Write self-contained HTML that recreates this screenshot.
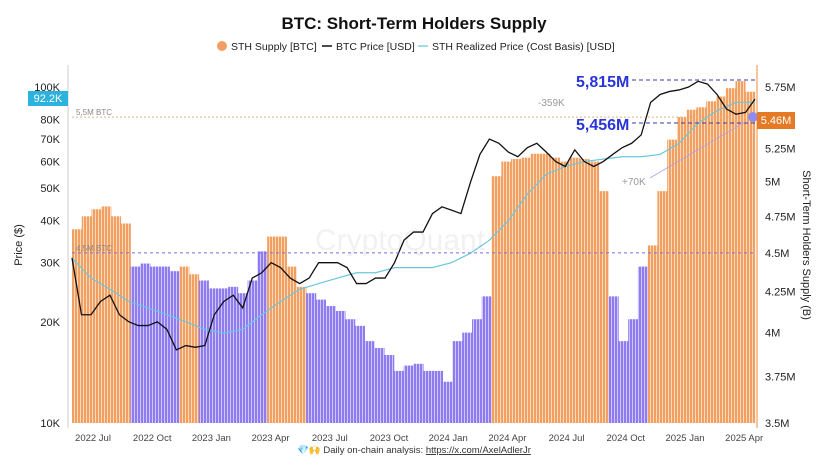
<!DOCTYPE html>
<html><head><meta charset="utf-8"><style>
body{margin:0;background:#fff;font-family:"Liberation Sans",sans-serif;}
svg text{font-family:"Liberation Sans",sans-serif;}
</style></head><body>
<svg id="c" width="828" height="465" viewBox="0 0 828 465">
<defs>
<pattern id="po" width="3" height="10" patternUnits="userSpaceOnUse"><rect width="3" height="10" fill="#fbd9bd"/><rect width="2" height="10" fill="#f2a062"/></pattern>
<pattern id="pp" width="3" height="10" patternUnits="userSpaceOnUse"><rect width="3" height="10" fill="#cfc6fa"/><rect width="2" height="10" fill="#8d7bef"/></pattern>
</defs>
<text x="414" y="29" text-anchor="middle" font-size="17" font-weight="bold" fill="#111">BTC: Short-Term Holders Supply</text>
<g font-size="10.5" fill="#222">
<circle cx="222" cy="46" r="5" fill="#f2a062"/>
<text x="231" y="50">STH Supply [BTC]</text>
<line x1="322" y1="46" x2="332" y2="46" stroke="#111" stroke-width="1.5"/>
<text x="336" y="50">BTC Price [USD]</text>
<line x1="418" y1="46" x2="428" y2="46" stroke="#7fd0e0" stroke-width="1.5"/>
<text x="432" y="50">STH Realized Price (Cost Basis) [USD]</text>
</g>
<g id="bars"></g>
<g id="axes"></g>
<g id="lines"></g>
<g id="ann"></g>
<text x="400" y="250" text-anchor="middle" font-size="30" fill="#000" opacity="0.05">CryptoQuant</text>
<text x="22" y="245" transform="rotate(-90 22 245)" text-anchor="middle" font-size="11" fill="#222">Price ($)</text>
<text x="803" y="245" transform="rotate(90 803 245)" text-anchor="middle" font-size="11" fill="#222">Short-Term Holders Supply (B)</text>
<text x="414" y="453" text-anchor="middle" font-size="9.5" fill="#333">💎🙌 Daily on-chain analysis: <tspan text-decoration="underline">https://x.com/AxelAdlerJr</tspan></text>
</svg>
<script>
const supply=[4.66,4.75,4.80,4.82,4.75,4.70,4.41,4.43,4.41,4.41,4.38,4.41,4.36,4.32,4.27,4.27,4.28,4.24,4.32,4.51,4.61,4.61,4.41,4.28,4.24,4.20,4.16,4.13,4.08,4.04,3.95,3.91,3.87,3.78,3.81,3.82,3.78,3.78,3.72,3.95,4.00,4.08,4.22,5.04,5.15,5.17,5.18,5.21,5.21,5.18,5.15,5.18,5.17,5.15,4.93,4.22,3.95,4.08,4.41,4.55,4.93,5.32,5.50,5.56,5.58,5.63,5.67,5.74,5.80,5.71];
const supplyColor="oooooopppppoopppppppoooopppppppppppppppppppooooooooooooppppoooooooooooo".split('');
const price=[31,21,21,23,24,21,20,19.5,19.5,20,19,16.5,17,16.8,17,21,23,24,22,27,28,30,29,27,26,27,30,30,30,29,26,26,27,27,30,35,37,37,42,44,43,42,52,63,70,68,64,62,66,68,64,60,58,65,60,58,60,63,66,68,72,90,95,97,98,100,104,102,95,86,83,84,92];
const realized=[31,27,25,23,22,21,20,19,18.5,19,21,23,25,26,27,28,28,29,29,29,30,32,35,40,48,55,58,60,61,62,62,63,68,78,85,90,90];
const leftTicks=[10000,20000,30000,40000,50000,60000,70000,80000,100000];
const leftLabels=["10K","20K","30K","40K","50K","60K","70K","80K","100K"];
const rightTicks=[3.5,3.75,4,4.25,4.5,4.75,5,5.25,5.75];
const rightLabels=["3.5M","3.75M","4M","4.25M","4.5M","4.75M","5M","5.25M","5.75M"];
const xLabels=["2022 Jul","2022 Oct","2023 Jan","2023 Apr","2023 Jul","2023 Oct","2024 Jan","2024 Apr","2024 Jul","2024 Oct","2025 Jan","2025 Apr"];

const X0=72,X1=755,Y0=423;
const yL=v=>Y0-(Math.log10(v)-4)*336;
const yR=v=>Y0-(Math.log10(v)-Math.log10(3.5))/(Math.log10(5.75)-Math.log10(3.5))*336;
const xi=(i,n)=>X0+i*(X1-X0)/(n-1);
const NS="http://www.w3.org/2000/svg";
function mk(t,a,p){const e=document.createElementNS(NS,t);for(const k in a)e.setAttribute(k,a[k]);p.appendChild(e);return e;}

const bars=document.getElementById('bars');
const bw=(X1-X0)/supply.length;
supply.forEach((v,i)=>{
 const r=mk('rect',{x:X0+i*bw,y:yR(v),width:bw+0.3,height:Y0-yR(v),fill:supplyColor[i]==='o'?'url(#po)':'url(#pp)'},bars);
 
 
});

const ax=document.getElementById('axes');
mk('line',{x1:68,y1:65,x2:68,y2:428,stroke:'#ccc'},ax);
mk('line',{x1:757,y1:65,x2:757,y2:428,stroke:'#f2b27f','stroke-width':1.5},ax);
leftTicks.forEach((v,i)=>{const t=mk('text',{x:60,y:yL(v)+4,'text-anchor':'end','font-size':11,fill:'#222'},ax);t.textContent=leftLabels[i];
 
 });
rightTicks.forEach((v,i)=>{const t=mk('text',{x:765,y:yR(v)+4,'font-size':11,fill:'#222'},ax);t.textContent=rightLabels[i];
 
 });
xLabels.forEach((s,i)=>{const t=mk('text',{x:93+i*59.2,y:441,'text-anchor':'middle','font-size':9.5,fill:'#444'},ax);t.textContent=s;
 
 });

const ln=document.getElementById('lines');
const rp=mk('polyline',{points:realized.map((v,i)=>xi(i,realized.length)+','+yL(v*1000)).join(' '),fill:'none',stroke:'#6cc6dc','stroke-width':1.2},ln);


const pl=mk('polyline',{points:price.map((v,i)=>xi(i,price.length)+','+yL(v*1000)).join(' '),fill:'none',stroke:'#111','stroke-width':1.3},ln);



const an=document.getElementById('ann');
mk('line',{x1:72,y1:yR(5.5),x2:755,y2:yR(5.5),stroke:'#e8b080','stroke-dasharray':'2,2'},an);
mk('line',{x1:72,y1:yR(4.5),x2:755,y2:yR(4.5),stroke:'#7b6fe0','stroke-dasharray':'3,3'},an);
let t=mk('text',{x:76,y:yR(5.5)-2,'font-size':8,fill:'#888'},an);t.textContent='5,5M BTC';
t=mk('text',{x:76,y:yR(4.5)-2,'font-size':8,fill:'#888'},an);t.textContent='4,5M BTC';
mk('line',{x1:632,y1:80,x2:755,y2:80,stroke:'#3a3aa0','stroke-dasharray':'4,3'},an);
mk('line',{x1:632,y1:123,x2:755,y2:123,stroke:'#3a3aa0','stroke-dasharray':'4,3'},an);
t=mk('text',{x:576,y:87,'font-size':16,'font-weight':'bold',fill:'#2a35d8'},an);t.textContent='5,815M';

t=mk('text',{x:576,y:130,'font-size':16,'font-weight':'bold',fill:'#2a35d8'},an);t.textContent='5,456M';

t=mk('text',{x:538,y:106,'font-size':10,fill:'#999'},an);t.textContent='-359K';
t=mk('text',{x:622,y:185,'font-size':10,fill:'#999'},an);t.textContent='+70K';
mk('line',{x1:650,y1:178,x2:745,y2:122,stroke:'#a9a3e8','stroke-width':0.8},an);
mk('circle',{cx:753,cy:117,r:5,fill:'#8f8cf0'},an);
mk('rect',{x:28,y:91,width:40,height:15,fill:'#2bb2dd'},an);
t=mk('text',{x:48,y:102,'text-anchor':'middle','font-size':11,fill:'#fff'},an);t.textContent='92.2K';

mk('rect',{x:757,y:112,width:38,height:17,fill:'#e57a25'},an);
t=mk('text',{x:776,y:124,'text-anchor':'middle','font-size':11,fill:'#fff'},an);t.textContent='5.46M';

</script>
</body></html>
